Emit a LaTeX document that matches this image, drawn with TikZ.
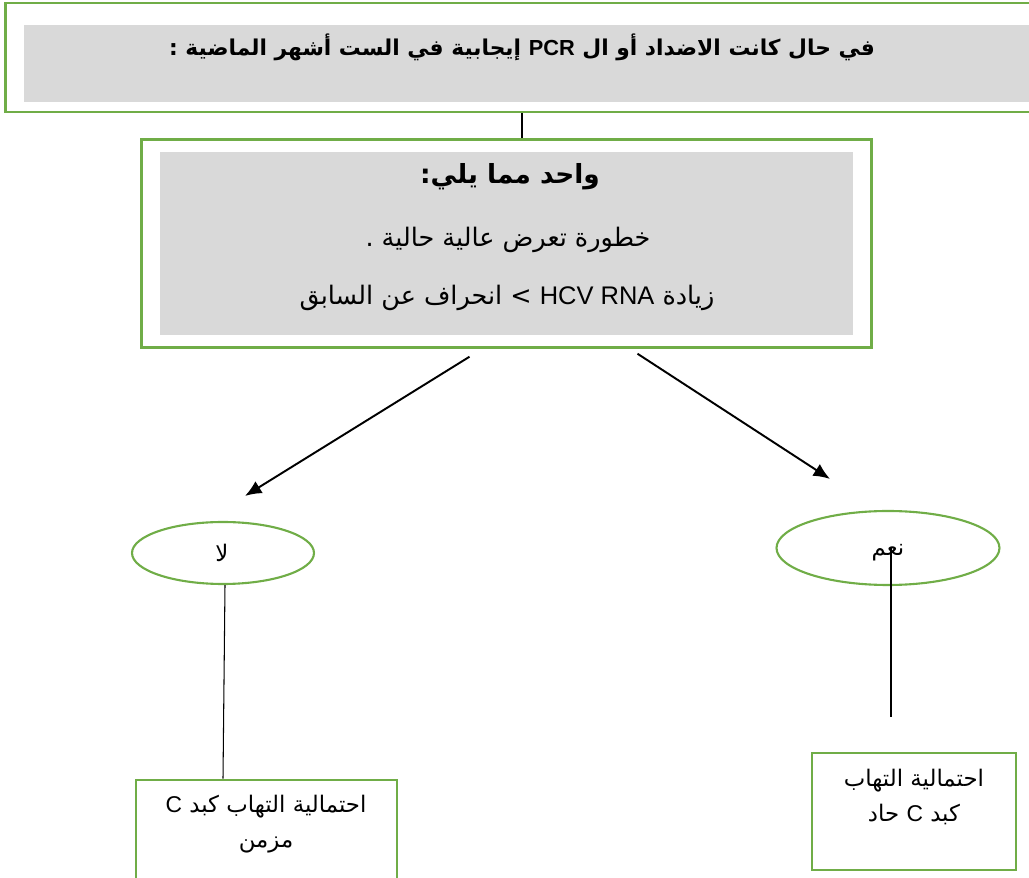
\documentclass[tikz,border=0pt]{standalone}
\usepackage{fontspec}
\setmainfont{Liberation Sans}
\newfontfamily\arabicfont[Script=Arabic]{DejaVu Sans}
\TeXXeTstate=1
\usetikzlibrary{shapes.geometric,arrows.meta,fit}
\definecolor{framegreen}{RGB}{112,173,71}
\definecolor{boxgray}{RGB}{217,217,217}
\newcommand{\rtltext}[1]{{\arabicfont\beginR #1\endR}}
\newcommand{\ltrtext}[1]{\beginL{\normalfont #1}\endL{}}

\begin{document}
\begin{tikzpicture}[x=0.02cm,y=-0.02cm,
		frame/.style={draw=framegreen,line width=1.6pt,inner sep=0pt},
		shade/.style={fill=boxgray,inner sep=0pt},
		oval/.style={ellipse,draw=framegreen,line width=1.2pt,inner sep=0pt},
		link/.style={draw=black,line width=0.6pt},
		branch/.style={draw=black,line width=1.1pt,-{Latex[length=3.3mm,width=2.8mm]}},
		bodytext/.style={font=\fontsize{14.5}{20}\selectfont,align=center,inner sep=0pt},
		boxtext/.style={font=\fontsize{13}{20}\selectfont,align=center,inner sep=0pt}]
	\useasboundingbox (0,0) rectangle (1029,878);
	\node[frame,minimum width=20.6cm,minimum height=2.18cm] (qframe) at (520,57.5) {};
	\node[shade,minimum width=20.22cm,minimum height=1.54cm] (qfill) at (529.5,63.5) {};
	\node[font=\fontsize{12.4}{14}\selectfont\bfseries,inner sep=0pt] (q) at (522,47)
		{\rtltext{في حال كانت الاضداد أو ال \ltrtext{\bfseries PCR} إيجابية في الست أشهر الماضية :}};
	\node[shade,minimum width=13.86cm,minimum height=3.66cm] (opts) at (506.5,243.5) {};
	\node[frame,fit=(opts),inner xsep=0.36cm,inner ysep=0.24cm] (optsframe) {};
	\node[font=\fontsize{15}{18}\selectfont\bfseries,inner sep=0pt] (head) at (510,177) {\rtltext{واحد مما يلي:}};
	\node[bodytext] (risk) at (508,240) {\rtltext{خطورة تعرض عالية حالية .}};
	\node[bodytext] (rise) at (507,298) {\rtltext{زيادة \ltrtext{HCV RNA} > انحراف عن السابق}};
	\draw[link] (q |- qframe.south) -- (q |- optsframe.north);
	\node[oval,minimum width=3.64cm,minimum height=1.24cm] (no) at (223,553) {};
	\node[boxtext] (notxt) at (222,553) {\rtltext{لا}};
	\node[oval,minimum width=4.46cm,minimum height=1.48cm] (yes) at (888,548) {};
	\node[boxtext] (yestxt) at (888,553) {\rtltext{نعم}};
	\draw[branch] ([shift={(-37,8)}]optsframe.south) -- ([shift={(22,-25)}]no.north);
	\draw[branch] ([shift={(131,5)}]optsframe.south) -- ([shift={(-58,-31)}]yes.north);
	\node[frame,minimum width=5.22cm,minimum height=2.34cm] (chronic) at (266.5,838.5) {};
	\node[boxtext] (chronictxt) at (266,824.5)
		{\rtltext{احتمالية التهاب كبد \ltrtext{C}}\\\rtltext{مزمن}};
	\node[frame,minimum width=4.08cm,minimum height=2.34cm] (acute) at (914,811.5) {};
	\node[boxtext] (acutetxt) at (914,797)
		{\rtltext{احتمالية التهاب}\\\rtltext{كبد \ltrtext{C} حاد}};
	\draw[link] ([shift={(2,0)}]no.south) -- (no.south |- chronic.north);
	\draw[link] ([shift={(3,0)}]yes.center) -- ([shift={(3,169)}]yes.center);
\end{tikzpicture}
\end{document}
